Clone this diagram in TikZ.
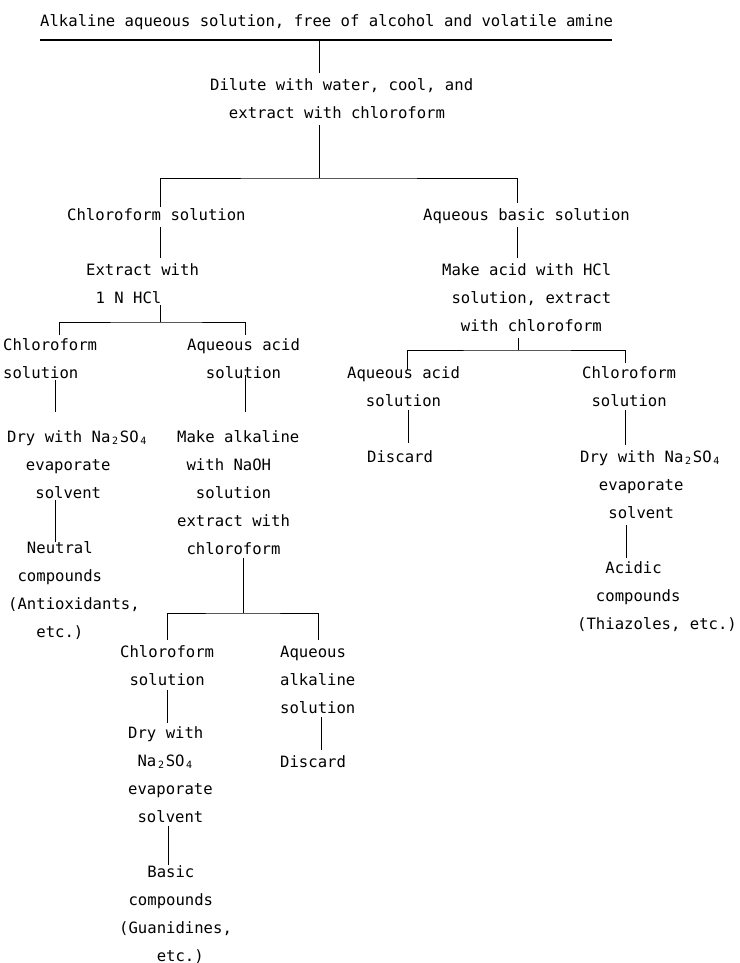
\documentclass[tikz,border=0pt]{standalone}
\usepackage{fontspec}
\setmainfont{DejaVu Sans Mono}
\newcommand\subn[1]{\makebox[0.602em][c]{\raisebox{-0.35ex}{\fontsize{10}{10}\selectfont #1}}}
\tikzset{
  lbl/.style={anchor=base west, align=left, inner sep=0pt, font=\fontsize{15.6}{28}\selectfont},
  conn/.style={line width=1pt, black},
  rule/.style={line width=1.4pt, black}
}
\begin{document}
\begin{tikzpicture}[x=1pt,y=-1pt]
\fill[white] (0,0) rectangle (739,963);
\useasboundingbox (0,0) rectangle (739,963);
% nodes (anchor = baseline of last line)
\node[lbl] (top) at (40,27) {Alkaline aqueous solution, free of alcohol and volatile amine};
\node[lbl] (dilute) at (210,118) {Dilute with water, cool, and\\\hphantom{00}extract with chloroform};
\node[lbl] (chl1) at (67,220) {Chloroform solution};
\node[lbl] (aqb) at (423,220) {Aqueous basic solution};
\node[lbl] (ext1) at (86,303) {Extract with\\\hphantom{0}1 N HCl};
\node[lbl] (mka) at (442,331) {Make acid with HCl\\\hphantom{0}solution, extract\\\hphantom{00}with chloroform};
\node[lbl] (chl2) at (3,378) {Chloroform\\solution};
\node[lbl] (aqa1) at (187,378) {Aqueous acid\\\hphantom{00}solution};
\node[lbl] (dry1) at (7,498) {Dry with Na\subn{2}SO\subn{4}\\\hphantom{00}evaporate\\\hphantom{000}solvent};
\node[lbl] (neu) at (8,637) {\hphantom{00}Neutral\\\hphantom{0}compounds\\(Antioxidants,\\\hphantom{000}etc.)};
\node[lbl] (mkal) at (177,554) {Make alkaline\\\hphantom{0}with NaOH\\\hphantom{00}solution\\extract with\\\hphantom{0}chloroform};
\node[lbl] (chl3) at (120,685) {Chloroform\\\hphantom{0}solution};
\node[lbl] (aqal) at (280,713) {Aqueous\\alkaline\\solution};
\node[lbl] (dry2) at (128,822) {Dry with\\\hphantom{0}Na\subn{2}SO\subn{4}\\evaporate\\\hphantom{0}solvent};
\node[lbl] (dis1) at (280,767) {Discard};
\node[lbl] (bas) at (119,961) {\hphantom{000}Basic\\\hphantom{0}compounds\\(Guanidines,\\\hphantom{0000}etc.)};
\node[lbl] (aqa2) at (347,406) {Aqueous acid\\\hphantom{00}solution};
\node[lbl] (chl4) at (582,406) {Chloroform\\\hphantom{0}solution};
\node[lbl] (dis2) at (367,462) {Discard};
\node[lbl] (dry3) at (580,518) {Dry with Na\subn{2}SO\subn{4}\\\hphantom{00}evaporate\\\hphantom{000}solvent};
\node[lbl] (acid) at (577,629) {\hphantom{000}Acidic\\\hphantom{00}compounds\\(Thiazoles, etc.)};
% connector end points
\coordinate (u1) at (40,40);  \coordinate (u2) at (612,40);
\coordinate (a1) at (319,40); \coordinate (a2) at (319,73);
\coordinate (b1) at (319,125); \coordinate (b2) at (319,178);
\coordinate (bL) at (160,207); \coordinate (bR) at (517,203);
\coordinate (c1) at (160,227); \coordinate (c2) at (160,258);
\coordinate (d1) at (517,227); \coordinate (d2) at (517,258);
\coordinate (e1) at (160,305); \coordinate (e2) at (160,322);
\coordinate (eL) at (59,335); \coordinate (eR) at (245,335);
\coordinate (f1) at (55,380); \coordinate (f2) at (55,412);
\coordinate (g1) at (245,375); \coordinate (g2) at (245,412);
\coordinate (h1) at (55,500); \coordinate (h2) at (55,542);
\coordinate (i1) at (243,558); \coordinate (i2) at (243,613);
\coordinate (iL) at (167,640); \coordinate (iR) at (318,640);
\coordinate (k1) at (167,690); \coordinate (k2) at (167,723);
\coordinate (l1) at (321,717); \coordinate (l2) at (321,750);
\coordinate (m1) at (168,826); \coordinate (m2) at (168,865);
\coordinate (n1) at (518,338); \coordinate (n2) at (518,350);
\coordinate (nL) at (407,370); \coordinate (nR) at (625,363);
\coordinate (o1) at (408,410); \coordinate (o2) at (408,443);
\coordinate (p1) at (625,410); \coordinate (p2) at (625,445);
\coordinate (q1) at (626,525); \coordinate (q2) at (626,558);
% connectors
\draw[rule] (u1) -- (u2);
\draw[conn] (a1) -- (a2);
\draw[conn] (b1) -- (b2);
\draw[conn] (bL) |- (b2) -| (bR);
\draw[conn] (c1) -- (c2);
\draw[conn] (d1) -- (d2);
\draw[conn] (e1) -- (e2);
\draw[conn] (eL) |- (e2) -| (eR);
\draw[conn] (f1) -- (f2);
\draw[conn] (g1) -- (g2);
\draw[conn] (h1) -- (h2);
\draw[conn] (i1) -- (i2);
\draw[conn] (iL) |- (i2) -| (iR);
\draw[conn] (k1) -- (k2);
\draw[conn] (l1) -- (l2);
\draw[conn] (m1) -- (m2);
\draw[conn] (n1) -- (n2);
\draw[conn] (nL) |- (n2) -| (nR);
\draw[conn] (o1) -- (o2);
\draw[conn] (p1) -- (p2);
\draw[conn] (q1) -- (q2);
\end{tikzpicture}
\end{document}
